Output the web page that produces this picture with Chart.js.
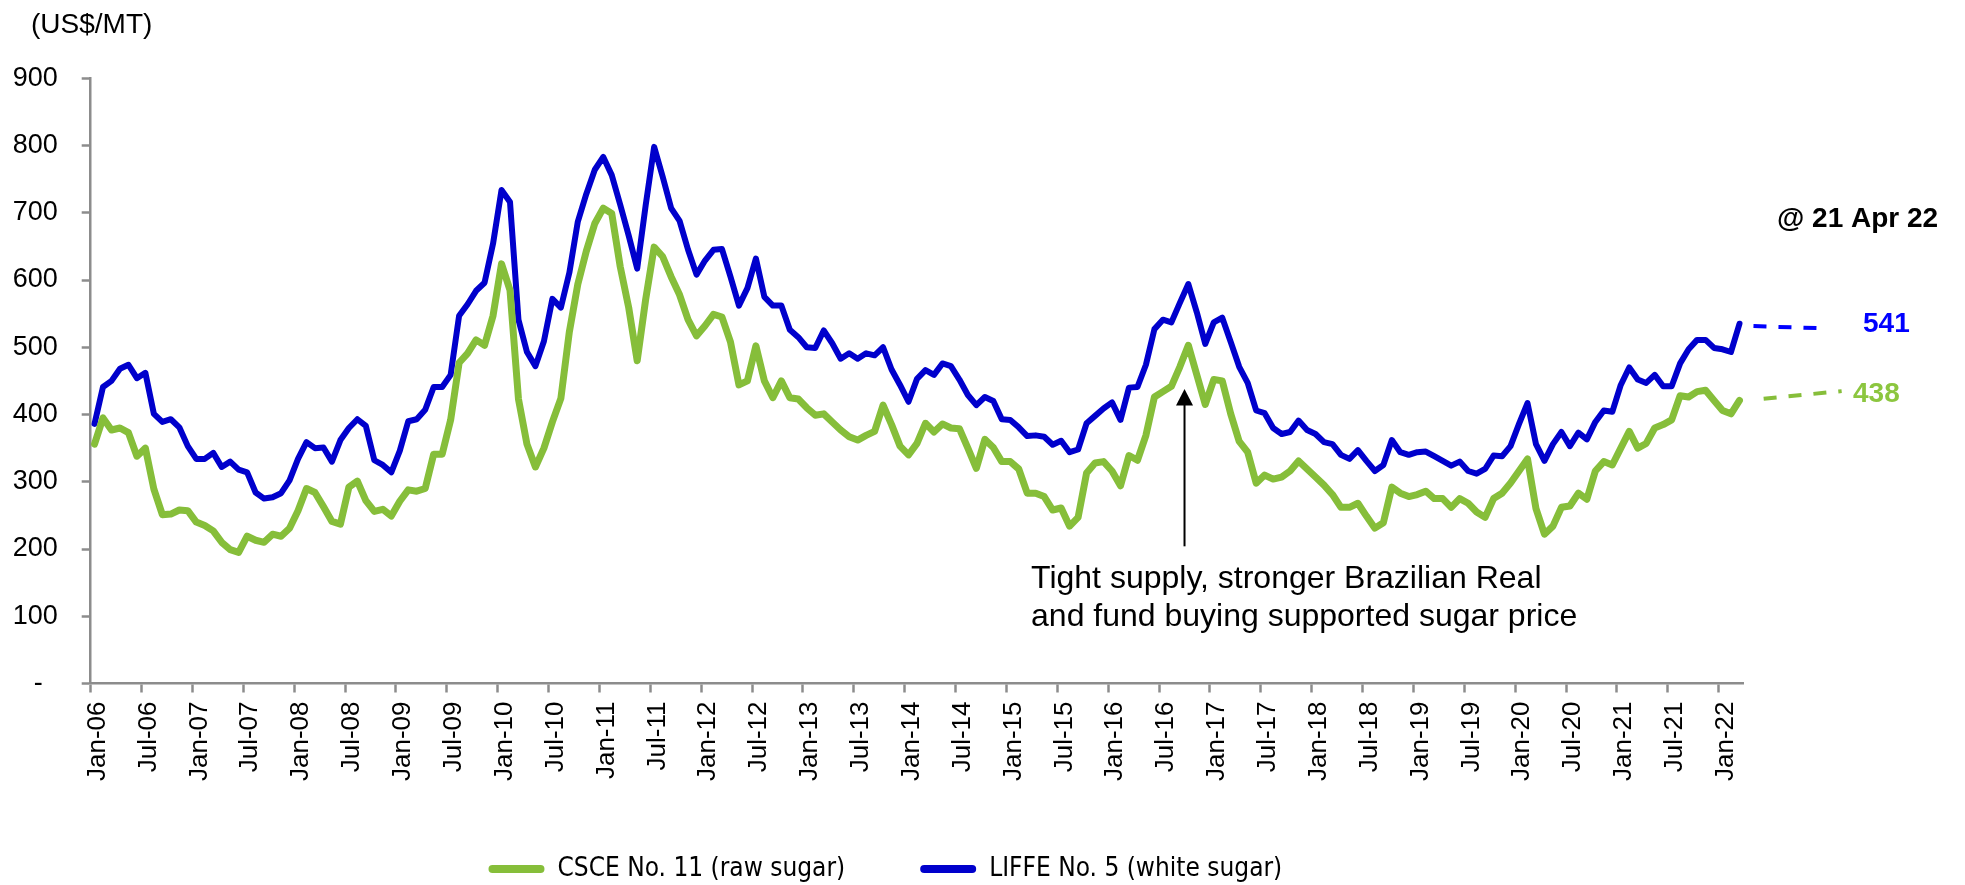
<!DOCTYPE html>
<html>
<head>
<meta charset="utf-8">
<script src="https://cdn.jsdelivr.net/npm/chart.js@4/dist/chart.umd.min.js"></script>
<style>
html,body{margin:0;padding:0;background:#fff;overflow:hidden;}
#c{display:block;}
</style>
</head>
<body>
<canvas id="c" width="1965" height="885"></canvas>
<script>
// ---- data (monthly, Jan-06 .. Mar-22) ----
const tickLabels = ['Jan-06','Jul-06','Jan-07','Jul-07','Jan-08','Jul-08','Jan-09','Jul-09','Jan-10','Jul-10',
  'Jan-11','Jul-11','Jan-12','Jul-12','Jan-13','Jul-13','Jan-14','Jul-14','Jan-15','Jul-15','Jan-16','Jul-16',
  'Jan-17','Jul-17','Jan-18','Jul-18','Jan-19','Jul-19','Jan-20','Jul-20','Jan-21','Jul-21','Jan-22'];

const rawSugar = [
  356,395,377,380,373,338,350,289,251,252,258,257,
  240,235,227,210,199,195,219,213,210,222,219,231,
  257,290,284,263,241,237,292,301,272,256,259,249,
  271,288,286,290,341,341,392,477,491,511,503,547,
  624,585,423,356,322,350,389,424,523,594,643,684,
  707,699,620,559,480,571,649,635,605,578,541,517,
  532,549,545,508,444,450,502,450,425,450,425,423,
  410,399,401,389,377,367,362,369,375,414,385,353,
  340,357,387,374,386,380,379,350,320,363,351,330,
  330,319,283,283,278,258,261,234,247,313,328,330,
  316,294,339,332,369,426,434,442,471,503,459,415,
  452,450,401,360,344,298,310,304,307,316,331,319,
  307,295,281,262,262,268,249,231,239,292,283,278,
  281,286,275,275,262,275,268,255,247,275,283,298,
  316,334,260,222,234,262,264,283,274,316,330,325,
  350,375,350,357,380,385,392,428,426,434,436,421,
  406,401,421
];

const whiteSugar = [
  386,441,450,468,474,454,462,401,389,393,381,353,
  334,334,343,322,330,318,314,284,275,277,283,302,
  334,359,350,351,330,362,380,393,383,332,325,314,
  346,390,393,407,441,441,459,547,564,584,596,654,
  734,716,541,493,472,509,572,559,611,687,728,764,
  783,756,712,666,617,711,798,754,707,688,645,608,
  629,645,646,605,562,588,632,575,562,562,526,515,
  500,499,525,506,483,491,483,491,488,500,467,444,
  419,453,466,459,476,472,452,429,414,426,420,393,
  392,381,368,369,367,355,361,344,348,387,398,409,
  418,392,440,441,474,527,541,537,566,594,552,505,
  537,544,508,471,447,406,402,380,371,374,391,377,
  371,359,356,340,334,347,331,316,325,362,344,340,
  344,345,338,331,324,330,316,312,319,339,338,353,
  386,417,356,331,356,374,353,373,363,389,406,404,
  444,470,452,447,459,442,442,476,497,511,511,499,
  497,493,535
];

// dashed lead-in lines to the 21 Apr 22 spot quotes (x in months from Jan-06)
const whiteSpotX = [196.1, 203.7];
const whiteSpotY = [531.5, 528.5];
const rawSpotX = [197.3, 206.5];
const rawSpotY = [423.5, 434.8];
const spotLabels = ['541', '438'];   // white, raw

const seriesNames = ['CSCE No. 11 (raw sugar)', 'LIFFE No. 5 (white sugar)'];

// ---- styles ----
const GREEN = '#86BE3A';
const BLUE = '#0000CC';
const AXIS = '#8C8C8C';
const FONT = "'Liberation Sans', Arial, sans-serif";
const NARROW = "'Liberation Sans Narrow', 'Arial Narrow', 'DejaVu Sans Condensed', 'Liberation Sans', sans-serif";
const MONTH_OFFSET = 0.45;

const toXY = (arr) => arr.map((v, i) => ({x: i + MONTH_OFFSET, y: v}));
const pairXY = (xs, ys) => xs.map((x, i) => ({x: x, y: ys[i]}));

const annotationPlugin = {
  id: 'annot',
  afterLayout(chart) {
    // centre the legend row the way the original does (slightly right of the plot centre)
    if (chart.legend) { chart.legend.left += 27.4; }
  },
  afterDraw(chart) {
    const ctx = chart.ctx;
    const xs = chart.scales.x, ys = chart.scales.y;
    ctx.save();
    ctx.fillStyle = '#000';
    ctx.textBaseline = 'alphabetic';
    // unit
    ctx.font = '28px ' + FONT;
    ctx.textAlign = 'left';
    ctx.fillText('(US$/MT)', 31, 33);
    // date
    ctx.font = 'bold 28px ' + FONT;
    ctx.fillText('@ 21 Apr 22', 1777, 227);
    // spot values
    ctx.fillStyle = '#0000FF';
    ctx.fillText(spotLabels[0], 1863, 332);
    ctx.fillStyle = '#8CC63F';
    ctx.fillText(spotLabels[1], 1853, 402);
    // arrow
    const ax = xs.getPixelForValue(129.0);
    const tipY = ys.getPixelForValue(438);
    const tailY = ys.getPixelForValue(204);
    ctx.strokeStyle = '#000';
    ctx.fillStyle = '#000';
    ctx.lineWidth = 2;
    ctx.beginPath();
    ctx.moveTo(ax, tailY);
    ctx.lineTo(ax, tipY + 14);
    ctx.stroke();
    ctx.beginPath();
    ctx.moveTo(ax, tipY);
    ctx.lineTo(ax - 8.5, tipY + 16.5);
    ctx.lineTo(ax + 8.5, tipY + 16.5);
    ctx.closePath();
    ctx.fill();
    // note
    ctx.font = '32px ' + FONT;
    const tx = xs.getPixelForValue(110.9);
    ctx.fillText('Tight supply, stronger Brazilian Real', tx, ys.getPixelForValue(141.9));
    ctx.fillText('and fund buying supported sugar price', tx, ys.getPixelForValue(85.2));
    ctx.restore();
  }
};

new Chart(document.getElementById('c'), {
  type: 'line',
  data: {
    datasets: [
      {
        label: seriesNames[0],
        data: toXY(rawSugar),
        borderColor: GREEN, backgroundColor: GREEN,
        borderWidth: 7, pointRadius: 0, tension: 0,
        borderJoinStyle: 'round', borderCapStyle: 'round'
      },
      {
        label: seriesNames[1],
        data: toXY(whiteSugar),
        borderColor: BLUE, backgroundColor: BLUE,
        borderWidth: 6, pointRadius: 0, tension: 0,
        borderJoinStyle: 'round', borderCapStyle: 'round'
      },
      {
        label: 'raw spot',
        data: pairXY(rawSpotX, rawSpotY),
        borderColor: GREEN, borderWidth: 4, borderDash: [13, 12],
        pointRadius: 0, clip: false
      },
      {
        label: 'white spot',
        data: pairXY(whiteSpotX, whiteSpotY),
        borderColor: '#0000FF', borderWidth: 4, borderDash: [13, 12],
        pointRadius: 0, clip: false
      }
    ]
  },
  options: {
    responsive: false,
    animation: false,
    events: [],
    layout: { padding: { left: 0, right: 221.7, top: 78.3, bottom: -7 } },
    plugins: {
      tooltip: { enabled: false },
      legend: {
        position: 'bottom',
        labels: {
          boxWidth: 56, boxHeight: 8, padding: 75,
          useBorderRadius: true, borderRadius: 4,
          color: '#000',
          font: { family: NARROW, size: 26 },
          generateLabels(chart) {
            return Chart.defaults.plugins.legend.labels.generateLabels(chart)
              .filter(l => l.datasetIndex < 2)
              .map(l => Object.assign(l, { lineWidth: 0 }));
          }
        }
      }
    },
    scales: {
      x: {
        type: 'linear', min: 0, max: 194.9,
        afterFit(s) { s.height = 97.5; },
        border: { display: true, color: AXIS, width: 2.5 },
        grid: { display: true, drawOnChartArea: false, drawTicks: true, tickLength: 9, tickWidth: 2.5, tickColor: AXIS },
        ticks: {
          stepSize: 6, autoSkip: false, maxTicksLimit: 100, includeBounds: false,
          minRotation: 90, maxRotation: 90, padding: 9, labelOffset: 7,
          color: '#000', font: { family: FONT, size: 26 },
          callback: (v) => tickLabels[Math.round(v / 6)]
        }
      },
      y: {
        min: 0, max: 900,
        afterFit(s) { s.width = 90.7; },
        border: { display: true, color: AXIS, width: 2.5 },
        grid: { display: true, drawOnChartArea: false, drawTicks: true, tickLength: 9, tickWidth: 2.5, tickColor: AXIS },
        ticks: {
          stepSize: 100, padding: 24,
          color: '#000', font: { family: FONT, size: 27 },
          callback: (v) => v === 0 ? '-  ' : String(v)
        }
      }
    }
  },
  plugins: [annotationPlugin]
});
</script>
</body>
</html>
